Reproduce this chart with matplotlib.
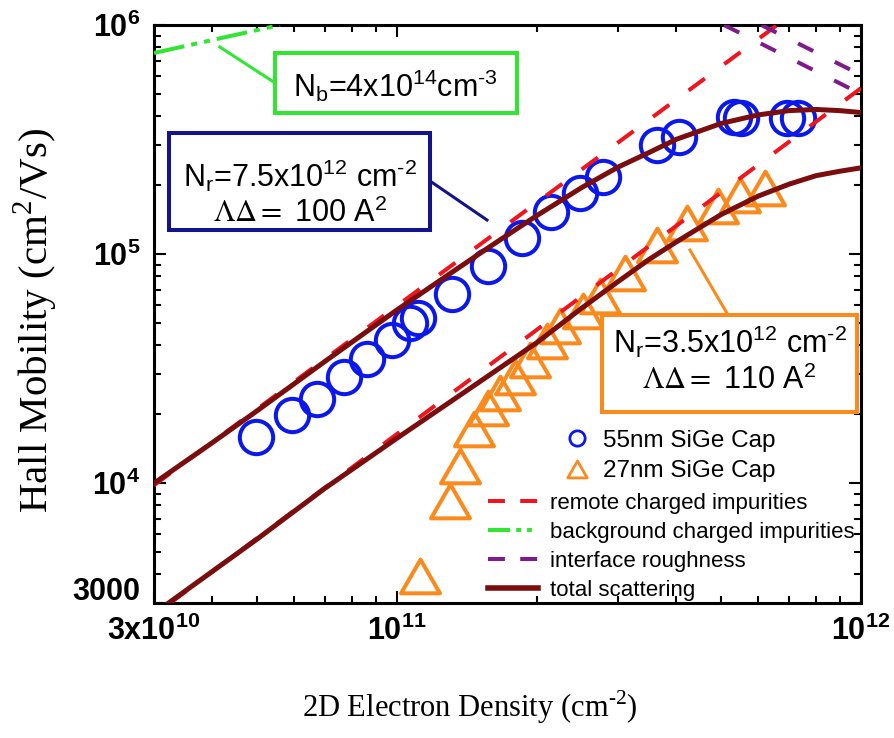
import matplotlib
matplotlib.use('Agg')
import matplotlib.pyplot as plt
import matplotlib.transforms as mtransforms
from matplotlib.lines import Line2D
from matplotlib.patches import Rectangle
from matplotlib.path import Path
from matplotlib.ticker import LogLocator, NullFormatter

plt.rcParams['font.family'] = ['Liberation Sans', 'DejaVu Sans']
plt.rcParams['mathtext.fontset'] = 'custom'
plt.rcParams['mathtext.rm'] = 'Liberation Sans'
plt.rcParams['mathtext.it'] = 'Liberation Sans:italic'
plt.rcParams['mathtext.bf'] = 'Liberation Sans:bold'

# Hall data, 55 nm SiGe cap
n_55 = [4.98e10, 5.95e10, 6.73e10, 7.70e10, 8.63e10, 9.77e10, 1.068e11, 1.111e11,
        1.316e11, 1.573e11, 1.862e11, 2.15e11, 2.48e11, 2.78e11, 3.64e11, 4.06e11,
        5.33e11, 5.52e11, 6.93e11, 7.32e11]
mu_55 = [1.59e4, 1.99e4, 2.33e4, 2.91e4, 3.48e4, 4.22e4, 5.0e4, 5.26e4,
         6.7e4, 8.87e4, 1.176e5, 1.527e5, 1.85e5, 2.17e5, 3.0e5, 3.25e5,
         3.97e5, 3.93e5, 3.93e5, 3.93e5]

# Hall data, 27 nm SiGe cap
n_27 = [1.122e11, 1.302e11, 1.369e11, 1.467e11, 1.573e11, 1.67e11, 1.80e11, 1.937e11,
        2.107e11, 2.247e11, 2.52e11, 2.74e11, 3.10e11, 3.64e11, 4.22e11, 4.92e11,
        5.49e11, 6.21e11]
mu_27 = [3.94e3, 8.37e3, 1.19e4, 1.72e4, 2.13e4, 2.48e4, 2.91e4, 3.45e4,
         4.18e4, 4.86e4, 5.64e4, 6.57e4, 8.27e4, 1.10e5, 1.37e5, 1.62e5,
         1.81e5, 1.94e5]

# total scattering curves
n_tot_55 = [3e10, 4e10, 5e10, 7e10, 1e11, 1.3e11, 1.6e11, 2e11, 2.5e11, 3e11,
            3.5e11, 4e11, 5e11, 6e11, 7e11, 8e11, 9e11, 1e12]
mu_tot_55 = [1.0e4, 1.5e4, 2.07e4, 3.4e4, 5.7e4, 8.2e4, 1.09e5, 1.47e5, 1.95e5, 2.4e5,
             2.78e5, 3.17e5, 3.72e5, 4.05e5, 4.23e5, 4.28e5, 4.23e5, 4.15e5]
n_tot_27 = [3e10, 5e10, 7e10, 1e11, 1.4e11, 2e11, 2.5e11, 3e11, 3.5e11, 4e11,
            5e11, 6e11, 7e11, 8e11, 9e11, 1e12]
mu_tot_27 = [2.7e3, 5.7e3, 9.5e3, 1.57e4, 2.5e4, 4.1e4, 5.8e4, 7.6e4, 9.5e4, 1.13e5,
             1.49e5, 1.79e5, 2.02e5, 2.2e5, 2.3e5, 2.38e5]

# single-mechanism limits
n_rem_55, mu_rem_55 = [3.0e10, 6.6e11], [9.8e3, 1.0e6]
n_rem_27, mu_rem_27 = [3.25e10, 1.0e12], [3.0e3, 5.3e5]
n_bg, mu_bg = [3.0e10, 5.6e10], [7.55e5, 1.0e6]
n_ir_55, mu_ir_55 = [6.1e11, 1.0e12], [1.0e6, 6.05e5]
n_ir_27, mu_ir_27 = [5.07e11, 1.0e12], [1.0e6, 5.0e5]

x_ticks = [3e10, 1e11, 1e12]
x_labels = ['3x10$^\\mathregular{10}$', '10$^\\mathregular{11}$', '10$^\\mathregular{12}$']
y_ticks = [3000, 1e4, 1e5, 1e6]
y_labels = ['3000', '10$^\\mathregular{4}$', '10$^\\mathregular{5}$', '10$^\\mathregular{6}$']

blue = '#0b18ec'
orange = '#fb8a1c'
red = '#f0141e'
green = '#33e533'
purple = '#7e1a8c'
maroon = '#7a0e0e'
navy = '#14148a'

# equilateral open triangle
tri = Path([(0, 0.866), (-1, -0.866), (1, -0.866), (0, 0.866)], closed=True)
HY = '\u2010'  # short hyphen for the exponents

fig = plt.figure(figsize=(8.95, 7.38), dpi=100)
ax = fig.add_axes([0.1721, 0.1829, 0.7899, 0.7832])
ax.set_xscale('log')
ax.set_yscale('log')

ax.plot(n_55, mu_55, ls='none', marker='o', ms=24, mfc='none', mec=blue, mew=2.9, zorder=2)
ax.plot(n_27, mu_27, ls='none', marker=tri, ms=28, mfc='none', mec=orange, mew=2.9, zorder=2)

ax.plot(n_rem_55, mu_rem_55, color=red, lw=2.9, ls=(0, (5, 6)), zorder=3)
ax.plot(n_rem_27, mu_rem_27, color=red, lw=2.9, ls=(0, (5, 6)), zorder=3)
ax.plot(n_bg, mu_bg, color=green, lw=2.9, ls=(0, (7.7, 1.75, 1.5, 1.75, 1.5, 1.75)), zorder=3)
ax.plot(n_ir_55, mu_ir_55, color=purple, lw=2.9, ls=(0, (4.2, 6)), zorder=3)
ax.plot(n_ir_27, mu_ir_27, color=purple, lw=2.9, ls=(0, (4.2, 6)), zorder=3)
ax.plot(n_tot_55, mu_tot_55, color=maroon, lw=3.6, zorder=4)
ax.plot(n_tot_27, mu_tot_27, color=maroon, lw=3.6, zorder=4)


# parameter boxes with leader lines
def param_box(x0, y0, w, h, edge, lines, lead):
    ax.add_patch(Rectangle((x0, y0), w, h, transform=ax.transAxes, fc='white',
                           ec=edge, lw=2.9, zorder=6))
    ax.add_line(Line2D(lead[0], lead[1], transform=ax.transAxes, color=edge,
                       lw=2.2, zorder=5))
    for (tx, ty, s, kw) in lines:
        ax.text(tx, ty, s, transform=ax.transAxes, ha='center', va='center',
                fontsize=22, zorder=7, **kw)


param_box(0.1711, 0.8478, 0.3423, 0.1038, green,
          [(0.342, 0.895, 'N$_\\mathregular{b}$=4x10$^\\mathregular{14}$cm$^\\mathregular{' + HY + '3}$', {})],
          ([0.093, 0.171], [0.962, 0.900]))
param_box(0.0212, 0.6453, 0.3692, 0.1678, navy,
          [(0.2065, 0.7388, 'N$_\\mathregular{r}$=7.5x10$^\\mathregular{12}$ cm$^\\mathregular{' + HY + '2}$', {}),
           (0.2065, 0.6730, '$\\Lambda\\Delta =$ 100 A$^\\mathregular{2}$', {'math_fontfamily': 'stix'})],
          ([0.3904, 0.4710], [0.7301, 0.6626]))
param_box(0.6337, 0.3304, 0.3607, 0.1678, orange,
          [(0.814, 0.4516, 'N$_\\mathregular{r}$=3.5x10$^\\mathregular{12}$ cm$^\\mathregular{' + HY + '2}$', {}),
           (0.814, 0.3841, '$\\Lambda\\Delta =$ 110 A$^\\mathregular{2}$', {'math_fontfamily': 'stix'})],
          ([0.7581, 0.8119], [0.6107, 0.4983]))

# legends
mk_handles = [Line2D([], [], ls='none', marker='o', ms=11, mfc='none', mec=blue, mew=2),
              Line2D([], [], ls='none', marker=tri, ms=14, mfc='none', mec=orange, mew=2)]
leg1 = ax.legend(mk_handles, ['55nm SiGe Cap', '27nm SiGe Cap'], loc='upper left',
                 bbox_to_anchor=(0.581, 0.300), frameon=False, fontsize=17.5,
                 handlelength=1.0, handletextpad=0.56, borderpad=0, borderaxespad=0,
                 labelspacing=0.35)
ax.add_artist(leg1)
ln_handles = [Line2D([], [], color=red, lw=2.9, ls=(0, (4.2, 3.8))),
              Line2D([], [], color=green, lw=2.9, ls=(0, (5.5, 1.5, 1.2, 1.5, 1.2, 1.5))),
              Line2D([], [], color=purple, lw=2.9, ls=(0, (4.2, 3.8))),
              Line2D([], [], color=maroon, lw=4.0)]
ax.legend(ln_handles, ['remote charged impurities', 'background charged impurities',
                       'interface roughness', 'total scattering'],
          loc='upper left', bbox_to_anchor=(0.4724, 0.190), frameon=False, fontsize=16,
          handlelength=2.25, handletextpad=0.54, borderpad=0, borderaxespad=0,
          labelspacing=0.36)

ax.set_xticks(x_ticks, x_labels, fontsize=22, fontweight='bold')
ax.set_yticks(y_ticks, y_labels, fontsize=22, fontweight='bold')
ax.xaxis.set_minor_locator(LogLocator(base=10, subs=range(2, 10), numticks=20))
ax.yaxis.set_minor_locator(LogLocator(base=10, subs=range(2, 10), numticks=20))
ax.xaxis.set_minor_formatter(NullFormatter())
ax.yaxis.set_minor_formatter(NullFormatter())
ax.tick_params(which='both', direction='in', top=True, right=True, width=1.5)
ax.tick_params(which='major', length=8.6)
ax.tick_params(which='minor', length=5)
ax.tick_params(axis='y', pad=10)
ax.tick_params(axis='x', pad=9)
for sp in ax.spines.values():
    sp.set_linewidth(2.2)

# lift the lowest y label off the corner
lbl = ax.get_yticklabels()[0]
lbl.set_transform(lbl.get_transform() +
                  mtransforms.ScaledTranslation(0, 0.15, fig.dpi_scale_trans))

ax.set_xlabel('2D Electron Density (cm$^\\mathregular{' + HY + '2}$)', family='Liberation Serif',
              fontsize=22, va='top')
ax.set_ylabel('Hall Mobility (cm$^\\mathregular{2}$/Vs)', family='Liberation Serif',
              fontsize=29.5, va='bottom')
ax.xaxis.set_label_coords(0.447, -0.147)
ax.yaxis.set_label_coords(-0.133, 0.488)

ax.set_xlim(3e10, 1e12)
ax.set_ylim(3000, 1e6)

fig.savefig('out.png', dpi=100)
